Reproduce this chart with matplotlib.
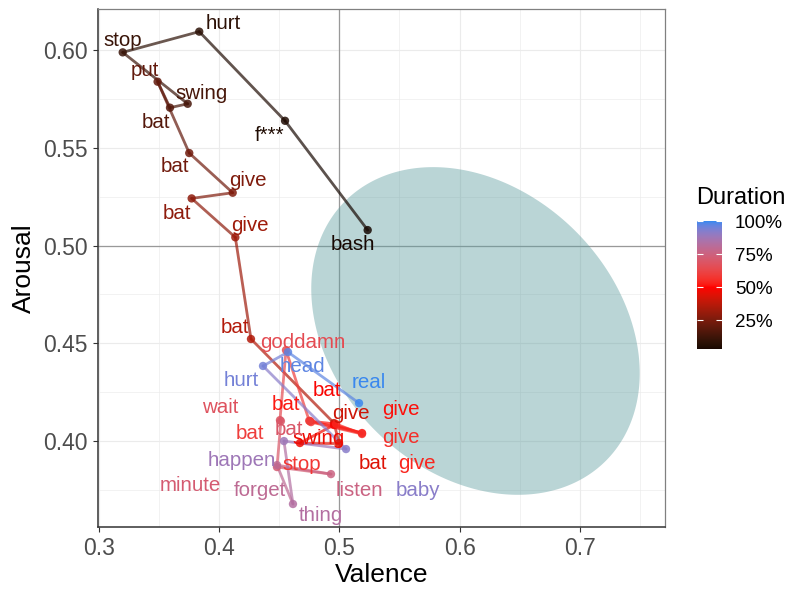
import numpy as np
import matplotlib
matplotlib.use("Agg")
import matplotlib.pyplot as plt
import matplotlib.colors as mcolors
from matplotlib.collections import LineCollection
from matplotlib.ticker import MultipleLocator

plt.rcParams['font.family'] = ['Liberation Sans', 'DejaVu Sans']

# words in the order they are sung
words = ["bash", "f***", "hurt", "stop", "swing", "bat", "put", "bat", "give", "bat", "give",
         "bat", "give", "bat", "swing", "bat", "give", "bat", "give", "give", "stop", "bat",
         "goddamn", "wait", "bat", "minute", "listen", "forget", "thing", "happen", "baby",
         "hurt", "head", "real"]
valence = [0.5236, 0.4549, 0.3836, 0.3200, 0.3740, 0.3593, 0.3490, 0.3753, 0.4114, 0.3773, 0.4136,
           0.4266, 0.4956, 0.4998, 0.4673, 0.4956, 0.5189, 0.4756, 0.4973, 0.5189, 0.4765, 0.4750,
           0.4557, 0.4507, 0.4515, 0.4482, 0.4931, 0.4482, 0.4615, 0.4540, 0.5056,
           0.4366, 0.4574, 0.5164]
arousal = [0.5079, 0.5638, 0.6094, 0.5988, 0.5725, 0.5705, 0.5838, 0.5473, 0.5270, 0.5241, 0.5042,
           0.4522, 0.4092, 0.3990, 0.3990, 0.4082, 0.4041, 0.4102, 0.4087, 0.4036, 0.4097, 0.4104,
           0.4465, 0.4107, 0.4102, 0.3867, 0.3831, 0.3877, 0.3678, 0.4000, 0.3959,
           0.4384, 0.4455, 0.4194]
duration = [0.03, 0.05, 0.08, 0.11, 0.14, 0.17, 0.20, 0.23, 0.26, 0.29, 0.32,
            0.36, 0.41, 0.44, 0.47, 0.49, 0.51, 0.52, 0.54, 0.56, 0.58, 0.60,
            0.65, 0.68, 0.70, 0.72, 0.76, 0.80, 0.83, 0.88, 0.92,
            0.95, 0.975, 1.00]

# where the (repelled) labels ended up
label_x = [0.5114, 0.4424, 0.4033, 0.3198, 0.3859, 0.3476, 0.3381, 0.3630, 0.4237, 0.3651, 0.4258,
           0.4133, 0.5097, 0.5280, 0.4831, 0.4898, 0.5513, 0.4557, 0.5646, 0.5513, 0.4690, 0.4258,
           0.4698, 0.4008, 0.4580, 0.3759, 0.5164, 0.4341, 0.4848, 0.4191, 0.5654,
           0.4183, 0.4690, 0.5247]
label_y = [0.5003, 0.5565, 0.6138, 0.6048, 0.5780, 0.5628, 0.5894, 0.5403, 0.5331, 0.5165, 0.5100,
           0.4583, 0.4143, 0.3887, 0.4015, 0.4261, 0.4159, 0.4189, 0.3887, 0.4020, 0.3882, 0.4041,
           0.4506, 0.4174, 0.4060, 0.3775, 0.3749, 0.3749, 0.3621, 0.3903, 0.3749,
           0.4312, 0.4379, 0.4297]

# confidence ellipse
ell_center = (0.6132, 0.4563)
ell_sx, ell_sy, ell_rho = 0.1365, 0.0838, -0.258


def to_lab(c):
    rgb = np.array(mcolors.to_rgb(c))
    lin = np.where(rgb <= 0.04045, rgb / 12.92, ((rgb + 0.055) / 1.055) ** 2.4)
    M = np.array([[0.4124, 0.3576, 0.1805], [0.2126, 0.7152, 0.0722], [0.0193, 0.1192, 0.9505]])
    xyz = M @ lin / np.array([0.95047, 1.0, 1.08883])
    f = np.where(xyz > 0.008856, np.cbrt(xyz), 7.787 * xyz + 16 / 116)
    return np.array([116 * f[1] - 16, 500 * (f[0] - f[1]), 200 * (f[1] - f[2])])


def from_lab(lab):
    L, a, b = lab
    fy = (L + 16) / 116
    f = np.array([fy + a / 500, fy, fy - b / 200])
    xyz = np.where(f ** 3 > 0.008856, f ** 3, (f - 16 / 116) / 7.787) * np.array([0.95047, 1.0, 1.08883])
    Minv = np.array([[3.2406, -1.5372, -0.4986], [-0.9689, 1.8758, 0.0415], [0.0557, -0.2040, 1.0570]])
    lin = np.clip(Minv @ xyz, 0, 1)
    rgb = np.where(lin <= 0.0031308, 12.92 * lin, 1.055 * lin ** (1 / 2.4) - 0.055)
    return np.clip(rgb, 0, 1)


stops = [to_lab("#000000"), to_lab("#ff0000"), to_lab("#3a88ee")]


def col(t):
    t = float(t)
    if t <= 0.5:
        lab = stops[0] + (stops[1] - stops[0]) * t / 0.5
    else:
        lab = stops[1] + (stops[2] - stops[1]) * (t - 0.5) / 0.5
    return from_lab(lab)


fig = plt.figure(figsize=(7.91, 5.89), dpi=100)
ax = fig.add_axes([0.1235, 0.1048, 0.7172, 0.88])

ax.set_xlim(0.2992, 0.7707)
ax.set_ylim(0.3559, 0.621)
ax.xaxis.set_major_locator(MultipleLocator(0.1))
ax.xaxis.set_minor_locator(MultipleLocator(0.05))
ax.yaxis.set_major_locator(MultipleLocator(0.05))
ax.yaxis.set_minor_locator(MultipleLocator(0.025))
ax.grid(which='major', color='#ebebeb', lw=0.85, zorder=0)
ax.grid(which='minor', color='#ebebeb', lw=0.45, zorder=0)
ax.set_axisbelow(True)
ax.tick_params(which='minor', length=0)
ax.tick_params(which='major', length=3.3, width=0.8, color='#333333', labelcolor='#4d4d4d',
               labelsize=16.5)
ax.tick_params(axis='x', pad=4)
ax.tick_params(axis='y', pad=4)
ax.xaxis.set_major_formatter(matplotlib.ticker.FuncFormatter(lambda v, p: f"{v:.1f}"))
ax.yaxis.set_major_formatter(matplotlib.ticker.FuncFormatter(lambda v, p: f"{v:.2f}"))
for side in ['left', 'bottom']:
    ax.spines[side].set_color('#333333')
    ax.spines[side].set_linewidth(1.1)
for side in ['top', 'right']:
    ax.spines[side].set_color('#808080')
    ax.spines[side].set_linewidth(0.9)

ax.axvline(0.5, color='#999999', lw=0.9, zorder=1)
ax.axhline(0.5, color='#999999', lw=0.9, zorder=1)

t = np.linspace(0, 2 * np.pi, 300)
ex = ell_center[0] + ell_sx * np.cos(t)
ey = ell_center[1] + ell_sy * (ell_rho * np.cos(t) + np.sqrt(1 - ell_rho ** 2) * np.sin(t))
ax.fill(ex, ey, color='#5f9ea0', alpha=0.43, lw=0, zorder=2)

colors = [col(d) for d in duration]
pts = np.column_stack([valence, arousal])
segs = [pts[i:i + 2] for i in range(len(pts) - 1)]
lc = LineCollection(segs, colors=colors[:-1], linewidths=2.0, alpha=0.7, zorder=3,
                    capstyle='round')
ax.add_collection(lc)
ax.scatter(valence, arousal, c=colors, s=36, alpha=0.85, lw=0, zorder=4)

for w, lx, ly, c in zip(words, label_x, label_y, colors):
    ax.text(lx, ly, w, color=c, fontsize=14.8, ha='center', va='center', zorder=5)

ax.set_xlabel("Valence", fontsize=19, labelpad=2)
ax.set_ylabel("Arousal", fontsize=19, labelpad=5)

# colour bar legend
cax = fig.add_axes([696.7 / 791, 1 - 349.3 / 589, 25.6 / 791, 128.3 / 589])
bar_t = np.linspace(0.03, 1.0, 256)
cmap = mcolors.ListedColormap([col(v) for v in bar_t])
sm = matplotlib.cm.ScalarMappable(norm=mcolors.Normalize(0.03, 1.0), cmap=cmap)
cb = fig.colorbar(sm, cax=cax, ticks=[0.25, 0.5, 0.75, 1.0])
cb.outline.set_visible(False)
cb.set_ticklabels(["25%", "50%", "75%", "100%"])
cax.tick_params(direction='in', color='white', length=4, width=0.8, left=True, right=True,
                labelsize=13.5, pad=9)
fig.text(696 / 791, 1 - 198 / 589, "Duration", fontsize=17, va='center', ha='left')

fig.savefig("out.png", dpi=100)
